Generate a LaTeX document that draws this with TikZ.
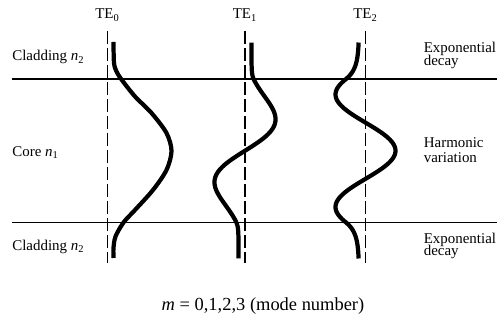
\documentclass[tikz,border=0pt]{standalone}
\usepackage{fontspec}
\setmainfont{Liberation Serif}

\begin{document}
\begin{tikzpicture}[
    field/.style={line width=2.4pt},
    guide/.style={line width=0.8pt, dash pattern=on 2.6mm off 0.8mm},
    boundary/.style={line width=1pt},
    lbl/.style={inner sep=0pt, font=\fontsize{8.5}{10}\selectfont},
    note/.style={lbl, anchor=north west, align=left}]

      \useasboundingbox (0,0) rectangle (9.94,6.5);

      % Core-cladding interfaces
      \draw[boundary] (0.24,4.92) -- (9.94,4.92);
      \draw[boundary] (0.24,2.05) -- (9.94,2.05);

      % Mode axes with their labels
      \foreach \x/\m in {2.15/0, 4.90/1, 7.31/2}{
        \draw[guide] (\x,5.88) -- (\x,1.24);
        \node[lbl, anchor=base] (te\m) at (\x,6.12) {TE\textsubscript{\m}};
      }

      % TE0 field profile
      \draw[field] plot[smooth] coordinates {(2.27,5.66) (2.28,5.24) (2.33,5.07)
        (2.43,4.91) (2.70,4.57) (3.03,4.24) (3.33,3.84) (3.43,3.48) (3.33,3.10)
        (3.06,2.70) (2.70,2.30) (2.47,2.05) (2.31,1.77) (2.27,1.54) (2.27,1.34)};

      % TE1 field profile (odd, one zero in the core)
      \draw[field] plot[domain=-2.155:2.165, samples=121, smooth]
        ({4.90 + (abs(\x)<=1.43 ? 1.6*\x*exp(-\x*\x/0.792)
                 : sign(\x)*(0.13+0.045*exp((1.43-max(abs(\x),1.43))/0.09)))}, {3.485+\x});

      % TE2 field profile (even, two zeros in the core)
      \draw[field] plot[domain=-2.155:2.165, samples=121, smooth]
        ({7.31 + (abs(\x)<=1.43 ? 0.6*cos(160*\x)
                 : -0.13-0.265*exp((1.43-max(abs(\x),1.43))/0.21))}, {3.485+\x});

      % Layer names
      \node[lbl, anchor=base west] (cladtop) at (0.24,5.28) {Cladding \textit{n}\textsubscript{2}};
      \node[lbl, anchor=base west] (core) at (0.24,3.37) {Core \textit{n}\textsubscript{1}};
      \node[lbl, anchor=base west] (cladbot) at (0.24,1.49) {Cladding \textit{n}\textsubscript{2}};

      % Field behaviour in each layer
      \node[note] (decaytop) at (8.47,5.66) {Exponential\\[-3pt]decay};
      \node[note] (harmonic) at (8.47,3.75) {Harmonic\\[-1.5pt]variation};
      \node[note] (decaybot) at (8.47,1.85) {Exponential\\[-3pt]decay};

      % Mode number
      \node[lbl, anchor=base, font=\fontsize{10.5}{12}\selectfont] (modenum) at (5.26,0.29)
        {\textit{m} = 0,1,2,3 (mode number)};

    \end{tikzpicture}
\end{document}
